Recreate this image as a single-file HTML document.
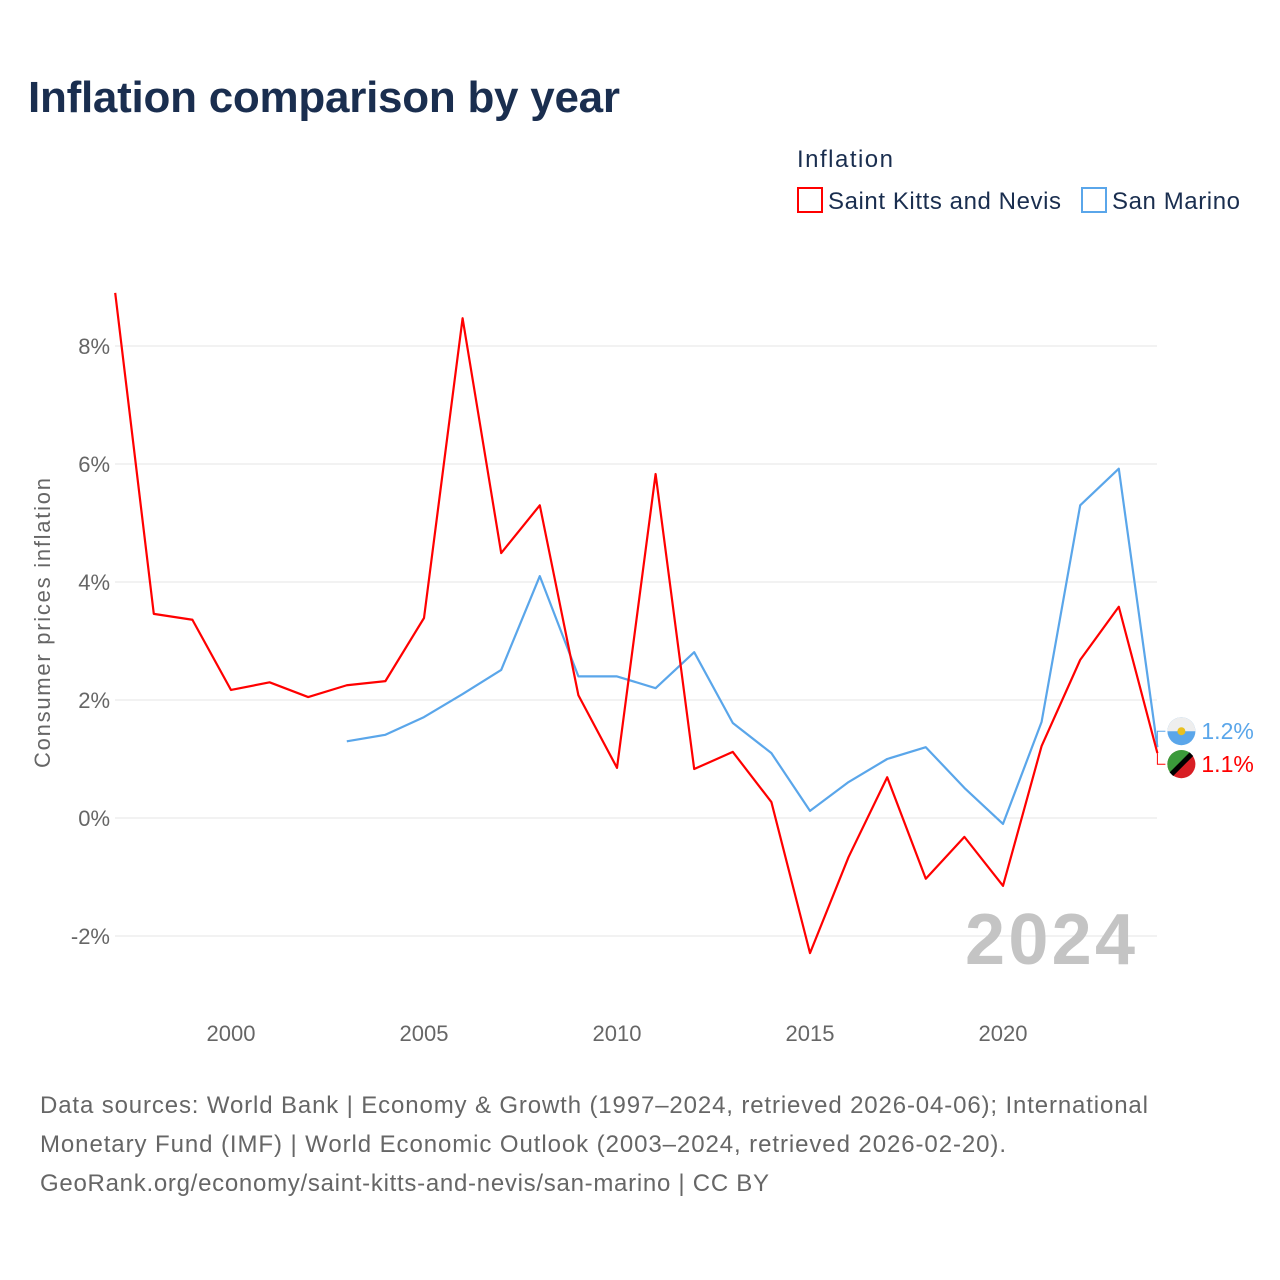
<!DOCTYPE html>
<html><head><meta charset="utf-8">
<style>
body{margin:0;background:#fff;font-family:"Liberation Sans",sans-serif;}
#wrap{position:relative;width:1280px;height:1280px;overflow:hidden;}
</style></head>
<body><div id="wrap">
<svg id="svg" width="1280" height="1280" xmlns="http://www.w3.org/2000/svg">
<text x="28" y="112" font-size="44" font-weight="bold" fill="#1a2e4f" textLength="592">Inflation comparison by year</text>
<text x="797" y="167" font-size="24" fill="#1a2e4f" textLength="96">Inflation</text>
<g>
<rect x="798" y="188" width="24" height="24" fill="none" stroke="#ff0000" stroke-width="2"/>
<text x="828" y="209" font-size="24" fill="#1a2e4f" textLength="233">Saint Kitts and Nevis</text></g>
<g>
<rect x="1082" y="188" width="24" height="24" fill="none" stroke="#5aa6ea" stroke-width="2"/>
<text x="1112" y="209" font-size="24" fill="#1a2e4f" textLength="128">San Marino</text></g>
<text transform="translate(50,623) rotate(-90)" text-anchor="middle" font-size="22" fill="#666" textLength="290">Consumer prices inflation</text>
<g id="grid"></g><g id="xt"></g>
<text x="1135" y="964" text-anchor="end" font-size="72" font-weight="bold" fill="#c4c4c4" textLength="170">2024</text>
<g id="series"></g>
<text x="40" y="1113" font-size="24" fill="#666" textLength="1108">Data sources: World Bank | Economy &amp; Growth (1997–2024, retrieved 2026-04-06); International</text>
<text x="40" y="1152" font-size="24" fill="#666" textLength="966">Monetary Fund (IMF) | World Economic Outlook (2003–2024, retrieved 2026-02-20).</text>
<text x="40" y="1191" font-size="24" fill="#666" textLength="729">GeoRank.org/economy/saint-kitts-and-nevis/san-marino | CC BY</text>
</svg></div>
<script>
const yTicks=[-2,0,2,4,6,8];
const xTicks=[2000,2005,2010,2015,2020];
const kYears=[1997,1998,1999,2000,2001,2002,2003,2004,2005,2006,2007,2008,2009,2010,2011,2012,2013,2014,2015,2016,2017,2018,2019,2020,2021,2022,2023,2024];
const kVals=[8.9,3.46,3.36,2.17,2.3,2.05,2.25,2.32,3.39,8.47,4.49,5.3,2.08,0.85,5.83,0.83,1.12,0.27,-2.29,-0.66,0.69,-1.03,-0.32,-1.15,1.22,2.68,3.58,1.1];
const sYears=[2003,2004,2005,2006,2007,2008,2009,2010,2011,2012,2013,2014,2015,2016,2017,2018,2019,2020,2021,2022,2023,2024];
const sVals=[1.3,1.41,1.71,2.1,2.51,4.1,2.4,2.4,2.2,2.81,1.61,1.1,0.12,0.61,1.0,1.2,0.51,-0.1,1.63,5.3,5.92,1.2];
const NS="http://www.w3.org/2000/svg";
const X=y=>115.2+(y-1997)*38.6;
const Y=v=>818-v*59;
function mk(t,a,p){const e=document.createElementNS(NS,t);for(const k in a)e.setAttribute(k,a[k]);p.appendChild(e);return e;}
const grid=document.getElementById('grid');
yTicks.forEach(v=>{
 const l=mk('line',{x1:115,x2:1157,y1:Y(v),y2:Y(v),stroke:'#e6e6e6','stroke-width':1},grid);
 
 
 const t=mk('text',{x:110,y:Y(v)+8,'text-anchor':'end','font-size':22,fill:'#666'},grid);
 t.textContent=v+'%';
 
 
});
const xt=document.getElementById('xt');
xTicks.forEach(v=>{
 const t=mk('text',{x:X(v),y:1041,'text-anchor':'middle','font-size':22,fill:'#666'},xt);
 t.textContent=v;
 
 
});
const ser=document.getElementById('series');
function line(ys,vs,c,name){
 const p=mk('polyline',{points:ys.map((y,i)=>X(y)+','+Y(vs[i])).join(' '),fill:'none',stroke:c,'stroke-width':2.2,'stroke-linejoin':'round'},ser);
 
 
}
line(sYears,sVals,'#5aa6ea','line-san-marino');
line(kYears,kVals,'#ff0000','line-saint-kitts');
const lx=X(2024);
const sv=sVals[sVals.length-1], kv=kVals[kVals.length-1];
const sy=Math.min(Y(sv),Y(kv))-16, ky=sy+33;
const c1=mk('circle',{cx:lx+24,cy:sy,r:14,fill:'#5aa6ea'},ser);


mk('path',{d:`M${lx+10} ${sy} a14 14 0 0 1 28 0 z`,fill:'#eee'},ser);
mk('circle',{cx:lx+24,cy:sy,r:4,fill:'#e8c020'},ser);
const c2=mk('circle',{cx:lx+24,cy:ky,r:14,fill:'#d81e24'},ser);


mk('path',{d:`M${lx+10} ${ky} a14 14 0 0 1 24 -10 L${lx+14} ${ky+10} A14 14 0 0 1 ${lx+10} ${ky} z`,fill:'#3a9a3a'},ser);
mk('line',{x1:lx+14,y1:ky+10,x2:lx+34,y2:ky-10,stroke:'#000','stroke-width':5},ser);
mk('polyline',{points:`${lx},${Y(sv)} ${lx},${sy} ${lx+8},${sy}`,fill:'none',stroke:'#5aa6ea'},ser);
mk('polyline',{points:`${lx},${Y(kv)} ${lx},${ky} ${lx+8},${ky}`,fill:'none',stroke:'#ff0000'},ser);
const t1=mk('text',{x:lx+44,y:sy+8,'font-size':23,fill:'#5aa6ea'},ser);
t1.textContent=sv.toFixed(1)+'%';


const t2=mk('text',{x:lx+44,y:ky+8,'font-size':23,fill:'#ff0000'},ser);
t2.textContent=kv.toFixed(1)+'%';


</script>
</body></html>
